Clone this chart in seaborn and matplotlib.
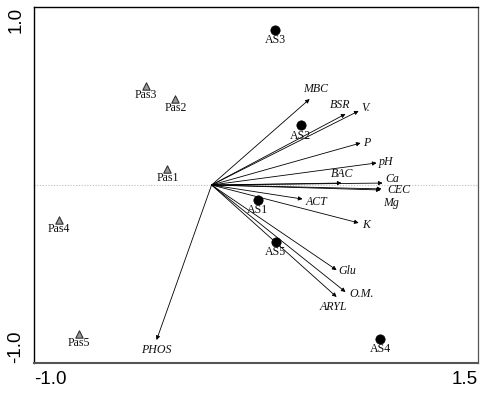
import numpy as np
import pandas as pd
import matplotlib
matplotlib.use("Agg")
import matplotlib.pyplot as plt
import seaborn as sns

# ---- data ----
var_names = ["MBC", "BSR", "V.", "P", "pH", "BAC", "Ca", "CEC", "Mg",
             "ACT", "K", "Glu", "O.M.", "ARYL", "PHOS"]
var_x = [0.552, 0.754, 0.828, 0.839, 0.929, 0.732, 0.963, 0.957, 0.952,
         0.512, 0.828, 0.704, 0.754, 0.704, -0.310]
var_y = [0.483, 0.399, 0.416, 0.236, 0.124, 0.011, 0.011, -0.022, -0.028,
         -0.079, -0.213, -0.478, -0.601, -0.629, -0.871]

site_names = ["AS1", "AS2", "AS3", "AS4", "AS5",
              "Pas1", "Pas2", "Pas3", "Pas4", "Pas5"]
site_x = [0.261, 0.503, 0.359, 0.948, 0.360,
          -0.249, -0.204, -0.368, -0.860, -0.749]
site_y = [-0.084, 0.335, 0.871, -0.865, -0.319,
          0.088, 0.481, 0.556, -0.197, -0.837]
site_group = ["AS"] * 5 + ["Pas"] * 5

x_ticks = [-1.0, -0.5, 0.0, 0.5, 1.0, 1.5]
x_ticklabels = ["-1.0", "", "", "", "", "1.5"]
y_ticks = [-1.0, -0.5, 0.0, 0.5, 1.0]
y_ticklabels = ["-1.0", "", "", "", "1.0"]

# ---- style: label offsets in points (dx, dy, ha, va) ----
var_label_style = {
    "MBC": (4, 3, "center", "bottom"),
    "BSR": (-4, 2, "center", "bottom"),
    "V.": (2, 2, "left", "center"),
    "P": (1.5, 0, "left", "center"),
    "pH": (1.5, 0.5, "left", "center"),
    "BAC": (0.5, 2, "center", "bottom"),
    "Ca": (2, 3, "left", "center"),
    "CEC": (4, -0.8, "left", "center"),
    "Mg": (2, -9.5, "left", "center"),
    "ACT": (2.5, -2, "left", "center"),
    "K": (2.5, -1.5, "left", "center"),
    "Glu": (1, -0.5, "left", "center"),
    "O.M.": (2.5, -1.5, "left", "center"),
    "ARYL": (-2, -3, "center", "top"),
    "PHOS": (-0.5, -2.5, "center", "top"),
}

sns.set_theme(style="white")
plt.rcParams["font.family"] = ["Liberation Sans", "DejaVu Sans"]

fig = plt.figure(figsize=(4.96, 3.94), dpi=100)
ax = fig.add_axes([34 / 496, 31 / 394, 444 / 496, 356 / 394])

ax.axhline(0, color="#bdbdbd", lw=0.8, ls=(0, (1, 1.5)), zorder=0)

sites = pd.DataFrame({"x": site_x, "y": site_y, "name": site_names, "group": site_group})
sns.scatterplot(data=sites[sites.group == "AS"], x="x", y="y", ax=ax,
                color="black", s=45, edgecolor="black", linewidth=0.5,
                marker="o", legend=False, zorder=3)
sns.scatterplot(data=sites[sites.group == "Pas"], x="x", y="y", ax=ax,
                color="#9a9a9a", s=28, edgecolor="#333333", linewidth=0.8,
                marker="^", legend=False, zorder=3)

serif = ["Liberation Serif", "DejaVu Serif"]
for nm, x, y, g in zip(site_names, site_x, site_y, site_group):
    dy = -3.2 if g == "AS" else -2.2
    ax.annotate(nm, (x, y), xytext=(0, dy), textcoords="offset points",
                ha="center", va="top", fontsize=8.6,
                family=serif, color="#111111")

for nm, x, y in zip(var_names, var_x, var_y):
    ax.annotate("", xy=(x, y), xytext=(0, 0),
                arrowprops=dict(arrowstyle="-|>", color="black", lw=0.6,
                                mutation_scale=6, shrinkA=0, shrinkB=0))
    dx, dy, ha, va = var_label_style[nm]
    ax.annotate(nm, (x, y), xytext=(dx, dy), textcoords="offset points",
                ha=ha, va=va, fontsize=8.6, style="italic",
                family=serif, color="#111111")

ax.set_xlim(-1.0, 1.5)
ax.set_ylim(-1.0, 1.0)
ax.set_xticks(x_ticks)
ax.set_xticklabels(x_ticklabels, fontsize=13.5)
ax.set_yticks(y_ticks)
ax.set_yticklabels(y_ticklabels, fontsize=13.5, rotation=90)
xl = ax.get_xticklabels()
xl[0].set_ha("left")
xl[-1].set_ha("right")
yl = ax.get_yticklabels()
yl[0].set_va("bottom")
yl[-1].set_va("top")
ax.tick_params(axis="both", direction="inout", length=4, width=0.8,
               colors="#222222", labelcolor="black")
ax.tick_params(axis="x", pad=4)
ax.tick_params(axis="y", pad=5)
ax.set_xlabel("")
ax.set_ylabel("")

for side in ["left", "top"]:
    ax.spines[side].set_color("black")
    ax.spines[side].set_linewidth(1.0)
ax.spines["bottom"].set_color("#555555")
ax.spines["bottom"].set_linewidth(1.5)
ax.spines["right"].set_color("#555555")
ax.spines["right"].set_linewidth(0.9)

fig.savefig("out.png", dpi=100)
